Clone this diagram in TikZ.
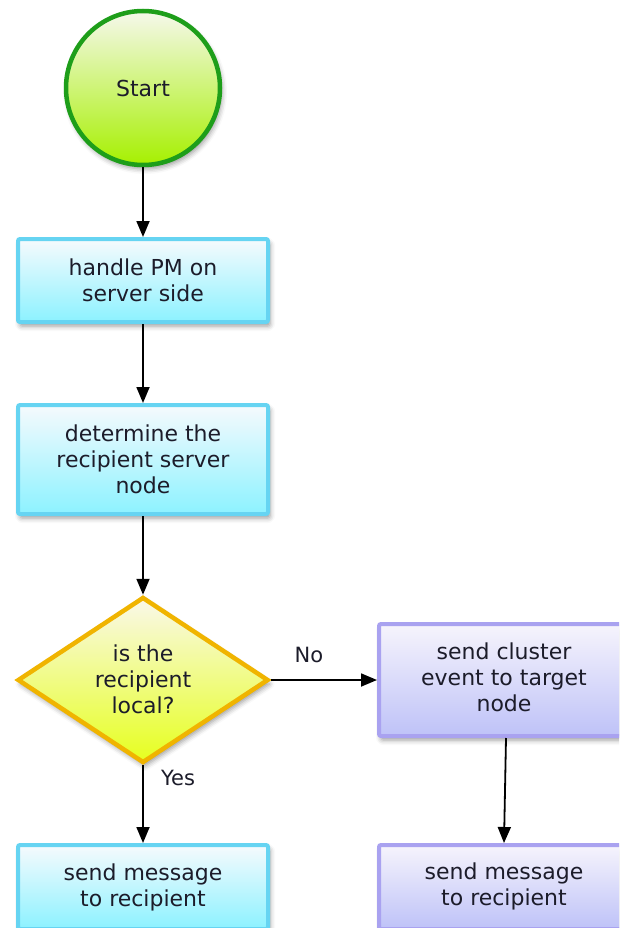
\documentclass[tikz,border=0pt]{standalone}
\usepackage{fontspec}
\setmainfont{DejaVu Sans}
\usetikzlibrary{arrows.meta,shapes.geometric,shadows.blur}

\definecolor{ink}{HTML}{1C1C2A}
\definecolor{greenline}{HTML}{1E9E1A}
\definecolor{greentop}{HTML}{F6F8EC}
\definecolor{greenbot}{HTML}{A6F000}
\definecolor{cyanline}{HTML}{66D4F2}
\definecolor{cyantop}{HTML}{F6FAFD}
\definecolor{cyanbot}{HTML}{8CF2FF}
\definecolor{violetline}{HTML}{A9A2F0}
\definecolor{violettop}{HTML}{F6F4FC}
\definecolor{violetbot}{HTML}{BEC2F8}
\definecolor{goldline}{HTML}{F0B400}
\definecolor{goldtop}{HTML}{FAF8EA}
\definecolor{goldbot}{HTML}{E6FF1E}

\begin{document}
\begin{tikzpicture}[x=1pt,y=-1pt,
  every node/.style={font=\fontsize{22pt}{26pt}\selectfont, text=ink},
  soft/.style={blur shadow={shadow xshift=2pt, shadow yshift=-4pt,
      shadow opacity=40, shadow blur radius=5pt}},
  procbox/.style={rectangle, rounded corners=2pt, line width=4pt,
      minimum width=250pt, align=center, inner sep=0pt, soft},
  cyanbox/.style={procbox, draw=cyanline, top color=cyantop, bottom color=cyanbot},
  % the right column runs off the page: its boxes are wider, the text is
  % padded on the right so that it stays centred on x = 502
  violetbox/.style={procbox, minimum width=290pt, anchor=west,
      draw=violetline, top color=violettop, bottom color=violetbot},
  startnode/.style={circle, draw=greenline, line width=4.5pt, minimum size=154pt,
      inner sep=0pt, top color=greentop, bottom color=greenbot, soft},
  decision/.style={diamond, draw=goldline, line width=4.5pt, inner sep=0pt,
      minimum width=251pt, minimum height=166pt,
      top color=goldtop, bottom color=goldbot, soft},
  flow/.style={draw=black, line width=1.8pt, -{Triangle[length=16pt,width=13pt]}},
  tag/.style={anchor=base, font=\fontsize{21pt}{24pt}\selectfont},
]
\newcommand{\rightcol}[1]{\begin{tabular}{@{}c@{}}#1\end{tabular}\hspace*{40pt}}
\useasboundingbox (0,0) rectangle (619,928);
\clip (0,0) rectangle (619,928);

% flow steps
\node[startnode] (start) at (143,88) {Start};
\node[cyanbox, minimum height=83pt] (handle) at (143,280.5) {handle PM on\\server side};
\node[cyanbox, minimum height=109pt] (determine) at (143,459.5)
  {determine the\\recipient server\\node};
\node[decision] (local) at (143,680) {};
\node[align=center] (localtext) at (143,679) {is the\\recipient\\local?};
\node[cyanbox, minimum height=84pt] (sendlocal) at (143,887) {send message\\to recipient};
\node[violetbox, minimum height=112pt] (cluster) at (377,680)
  {\rightcol{send cluster\\event to target\\node}};
\node[violetbox, minimum height=84pt] (sendremote) at (377,887)
  {\rightcol{send message\\to recipient}};

% connectors
\draw[flow] (start.south) -- (handle.north);
\draw[flow] (handle.south) -- (determine.north);
\draw[flow] (determine.south) -- (local.north);
\draw[flow] (local.south) -- (sendlocal.north);
\draw[flow] (local.east) -- (cluster.west);
\draw[flow] ([xshift=-18pt]cluster.south) -- ([xshift=-20pt]sendremote.north);

% branch labels
\node[tag] (yes) at (178,785) {Yes};
\node[tag] (no) at (309,662) {No};
\end{tikzpicture}
\end{document}
